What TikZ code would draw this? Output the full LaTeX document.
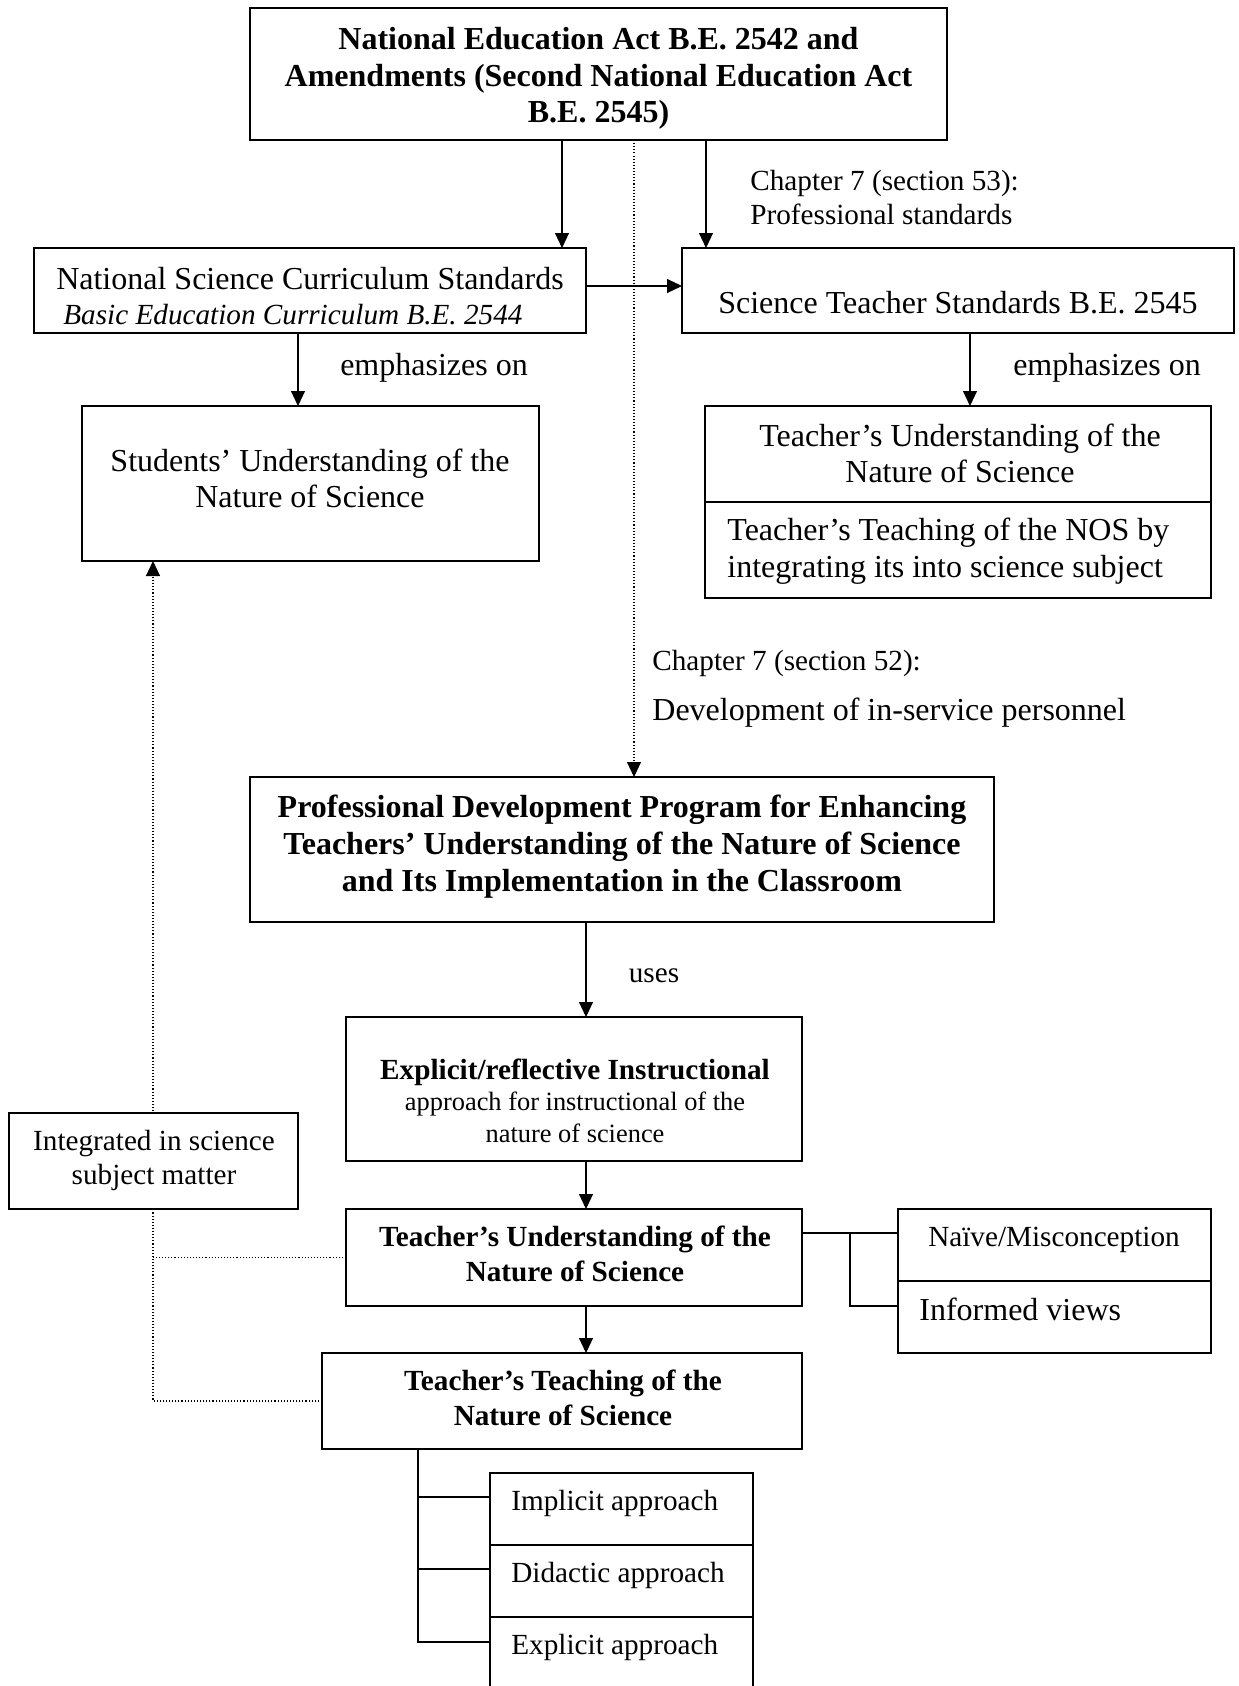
\documentclass[tikz,border=0pt]{standalone}
\usepackage{fontspec}
\setmainfont{Liberation Serif}
\usetikzlibrary{arrows.meta}
\newcommand{\fA}{\fontsize{16}{19}\selectfont}
\newcommand{\fB}{\fontsize{14.6}{17}\selectfont}
\newcommand{\fC}{\fontsize{13.2}{16}\selectfont}
\begin{document}
\begin{tikzpicture}[x=0.5pt,y=-0.5pt,
  bx/.style={draw, line width=0.65pt, inner sep=0pt, outer sep=0pt, fill=white},
  tx/.style={inner sep=0pt, anchor=base},
  tl/.style={inner sep=0pt, anchor=base west},
  arr/.style={line width=0.55pt, -{Triangle[length=7.5pt,width=7pt]}},
  dotl/.style={line width=0.55pt, dash pattern=on 0.55pt off 1pt},
  ln/.style={line width=0.65pt}]
\clip (0,0) rectangle (1238,1686);
\fill[white] (0,0) rectangle (1238,1686);
% guide coordinates
\coordinate (xA) at (562,0);
\coordinate (xB) at (706,0);
\coordinate (xC) at (634,0);
\coordinate (xD) at (298,0);
\coordinate (xE) at (970,0);
\coordinate (xF) at (586,0);
\coordinate (xG) at (153,0);
\coordinate (xH) at (850,0);
\coordinate (xI) at (418,0);
\coordinate (yA) at (0,286);
\coordinate (yB) at (0,1233);
\coordinate (yC) at (0,1306);
\coordinate (yD) at (0,1497);
\coordinate (yE) at (0,1569);
\coordinate (yF) at (0,1642);
\coordinate (sa) at (153,561);
% boxes
\node[bx, minimum width=348.5pt, minimum height=66pt] (top) at (598.5,74) {};
\node[bx, minimum width=276pt, minimum height=42.5pt] (nscs) at (310,290.5) {};
\node[bx, minimum width=276pt, minimum height=42.5pt] (sts) at (958,290.5) {};
\node[bx, minimum width=228.5pt, minimum height=77.5pt] (stud) at (310.5,483.5) {};
\node[bx, minimum width=253pt, minimum height=48pt] (tuRa) at (958,454) {};
\node[bx, minimum width=253pt, minimum height=48pt] (tuRb) at (958,550) {};
\node[bx, minimum width=372pt, minimum height=72.5pt] (pd) at (622,849.5) {};
\node[bx, minimum width=228pt, minimum height=72pt] (expl) at (574,1089) {};
\node[bx, minimum width=228pt, minimum height=48.5pt] (tu) at (574,1257.5) {};
\node[bx, minimum width=240pt, minimum height=48pt] (tt) at (562,1401) {};
\node[bx, minimum width=156.5pt, minimum height=36pt] (naive) at (1054.5,1245) {};
\node[bx, minimum width=156.5pt, minimum height=36pt] (inf) at (1054.5,1317) {};
\node[bx, minimum width=131.5pt, minimum height=36pt] (impl) at (621.5,1509) {};
\node[bx, minimum width=131.5pt, minimum height=36pt] (did) at (621.5,1581) {};
\node[bx, minimum width=131.5pt, minimum height=41.5pt] (expa) at (621.5,1658.5) {};

% dotted feedback lines (boxes drawn after cover them)
\draw[dotl, -{Triangle[length=7.5pt,width=7pt]}] (tt.west) -| (sa);
\draw[dotl] (tu.west) -- (tu.west -| xG);
\node[bx, minimum width=144.5pt, minimum height=48pt] (integ) at (153.5,1161) {};

% texts
\node[tx, font=\fA\bfseries] (t1) at (598.5,50) {National Education Act B.E. 2542 and};
\node[tx, font=\fA\bfseries] (t2) at (598.5,86.5) {Amendments (Second National Education Act};
\node[tx, font=\fA\bfseries] (t3) at (598.5,123) {B.E. 2545)};
\node[tl, font=\fB] (c53a) at (750,191) {Chapter 7 (section 53):};
\node[tl, font=\fB] (c53b) at (750,224) {Professional standards};
\node[tx, font=\fA] (ns1) at (310,289) {National Science Curriculum Standards};
\node[tl, font=\fB\itshape] (ns2) at (63,324) {Basic Education Curriculum B.E. 2544};
\node[tx, font=\fA] (st1) at (958,313) {Science Teacher Standards B.E. 2545};
\node[tx, font=\fA] (em1) at (434,375) {emphasizes on};
\node[tx, font=\fA] (em2) at (1107,375) {emphasizes on};
\node[tx, font=\fA] (su1) at (310,471) {Students’ Understanding of the};
\node[tx, font=\fA] (su2) at (310,507) {Nature of Science};
\node[tx, font=\fA] (ru1) at (960,446) {Teacher’s Understanding of the};
\node[tx, font=\fA] (ru2) at (960,482) {Nature of Science};
\node[tl, font=\fA] (rt1) at (727,540) {Teacher’s Teaching of the NOS by};
\node[tl, font=\fA] (rt2) at (727,577) {integrating its into science subject};
\node[tl, font=\fB] (c52a) at (652,670) {Chapter 7 (section 52):};
\node[tl, font=\fA] (c52b) at (652,720) {Development of in-service personnel};
\node[tx, font=\fA\bfseries] (p1) at (622,817) {Professional Development Program for Enhancing};
\node[tx, font=\fA\bfseries] (p2) at (622,854) {Teachers’ Understanding of the Nature of Science};
\node[tx, font=\fA\bfseries] (p3) at (622,891) {and Its Implementation in the Classroom};
\node[tx, font=\fB] (uses) at (654,982) {uses};
\node[tx, font=\fB\bfseries] (e1) at (575,1079) {Explicit/reflective Instructional};
\node[tx, font=\fC] (e2) at (575,1110) {approach for instructional of the};
\node[tx, font=\fC] (e3) at (575,1142) {nature of science};
\node[tx, font=\fB] (i1) at (154,1150) {Integrated in science};
\node[tx, font=\fB] (i2) at (154,1184) {subject matter};
\node[tx, font=\fB\bfseries] (u1) at (575,1246) {Teacher’s Understanding of the};
\node[tx, font=\fB\bfseries] (u2) at (575,1281) {Nature of Science};
\node[tx, font=\fB\bfseries] (g1) at (563,1390) {Teacher’s Teaching of the};
\node[tx, font=\fB\bfseries] (g2) at (563,1425) {Nature of Science};
\node[tx, font=\fB] (nv) at (1054,1246) {Naïve/Misconception};
\node[tl, font=\fA] (iv) at (919,1320) {Informed views};
\node[tl, font=\fB] (a1) at (511,1510) {Implicit approach};
\node[tl, font=\fB] (a2) at (511,1582) {Didactic approach};
\node[tl, font=\fB] (a3) at (511,1654) {Explicit approach};

% connectors
\draw[arr] (top.south -| xA) -- (nscs.north -| xA);
\draw[arr] (top.south -| xB) -- (sts.north -| xB);
\draw[dotl, -{Triangle[length=7.5pt,width=7pt]}] (top.south -| xC) -- (pd.north -| xC);
\draw[arr] (nscs.east |- yA) -- (sts.west |- yA);
\draw[arr] (nscs.south -| xD) -- (stud.north -| xD);
\draw[arr] (sts.south -| xE) -- (tuRa.north -| xE);
\draw[arr] (pd.south -| xF) -- (expl.north -| xF);
\draw[arr] (expl.south -| xF) -- (tu.north -| xF);
\draw[arr] (tu.south -| xF) -- (tt.north -| xF);
\draw[ln] (tu.east |- yB) -- (naive.west |- yB);
\draw[ln] (xH |- yB) -- (xH |- yC) -- (inf.west |- yC);
\draw[ln] (tt.south -| xI) -- (xI |- yF) -- (expa.west |- yF);
\draw[ln] (xI |- yD) -- (impl.west |- yD);
\draw[ln] (xI |- yE) -- (did.west |- yE);
\end{tikzpicture}
\end{document}
